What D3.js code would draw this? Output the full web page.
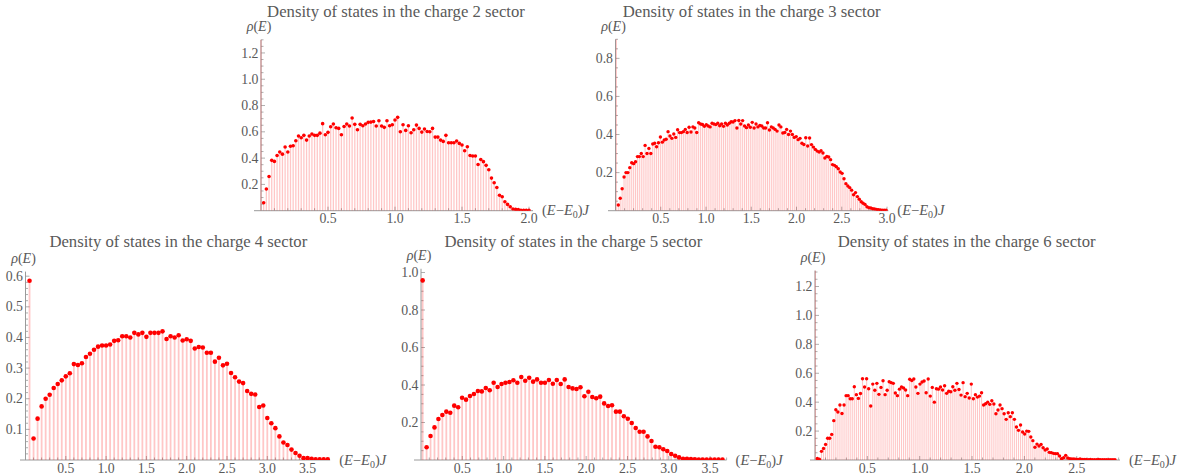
<!DOCTYPE html>
<html><head><meta charset="utf-8">
<script src="https://cdn.jsdelivr.net/npm/d3@7"></script>
<style>
body{margin:0;background:#fff;}
svg{display:block;}
</style>
</head><body>
<svg id="chart" width="1190" height="476" font-family="'Liberation Serif', 'Tinos', 'DejaVu Serif', serif"></svg>
<script>
// ---------- DATA ----------
const charges = [2, 3, 4, 5, 6];

// charge 2 sector: first bin (at E=0) runs off the top of the plot
const xRange2 = [0, 2.0];
const rho2 = [1.4,
 0.06,0.165,0.26,0.383,0.375,0.42,0.446,0.43,0.484,0.446,
 0.49,0.494,0.532,0.568,0.555,0.573,0.537,0.568,0.583,0.573,
 0.573,0.59,0.662,0.578,0.596,0.639,0.659,0.631,0.626,0.578,
 0.641,0.659,0.644,0.705,0.657,0.616,0.657,0.646,0.659,0.672,
 0.674,0.679,0.644,0.684,0.644,0.634,0.684,0.646,0.654,0.69,
 0.71,0.60,0.654,0.611,0.646,0.593,0.616,0.651,0.626,0.598,
 0.621,0.603,0.60,0.626,0.56,0.56,0.537,0.527,0.573,0.517,
 0.517,0.517,0.53,0.512,0.5,0.456,0.487,0.42,0.416,0.416,
 0.352,0.39,0.373,0.345,0.312,0.248,0.213,0.177,0.117,0.106,
 0.068,0.048,0.03,0.013,0.01,0.008,0.003,0.003,0.003,0.003];

// charge 3 sector
const xRange3 = [0.01, 2.99];
const rho3 = [1.1,
 0.03,0.065,0.115,0.177,0.2,0.2,0.226,0.252,0.247,0.257,
 0.284,0.284,0.3,0.284,0.343,0.3,0.327,0.3,0.35,0.354,
 0.336,0.357,0.387,0.36,0.371,0.375,0.415,0.392,0.38,0.403,
 0.385,0.425,0.41,0.41,0.415,0.427,0.411,0.438,0.413,0.44,
 0.434,0.411,0.462,0.455,0.453,0.443,0.452,0.445,0.44,0.459,
 0.455,0.452,0.459,0.446,0.455,0.443,0.459,0.45,0.459,0.467,
 0.466,0.473,0.434,0.474,0.455,0.473,0.445,0.436,0.45,0.438,
 0.464,0.434,0.455,0.44,0.448,0.445,0.434,0.434,0.462,0.424,
 0.44,0.434,0.427,0.418,0.45,0.44,0.408,0.411,0.427,0.4,
 0.418,0.4,0.385,0.389,0.373,0.38,0.354,0.348,0.383,0.34,
 0.382,0.347,0.334,0.322,0.313,0.308,0.315,0.303,0.277,0.285,
 0.282,0.268,0.242,0.238,0.231,0.22,0.203,0.196,0.168,0.142,
 0.13,0.121,0.108,0.084,0.095,0.074,0.06,0.047,0.039,0.033,
 0.021,0.016,0.014,0.01,0.009,0.007,0.005,0.004,0.003,0.002,
 0.002];

// charge 4 sector
const xRange4 = [0.05, 3.75];
const rho4 = [
 0.585,0.07,0.135,0.175,0.2,0.213,0.235,0.248,0.26,0.273,
 0.283,0.313,0.31,0.316,0.336,0.347,0.36,0.37,0.374,0.374,
 0.377,0.389,0.391,0.404,0.404,0.4,0.415,0.41,0.415,0.402,
 0.415,0.415,0.415,0.42,0.395,0.404,0.4,0.407,0.39,0.394,
 0.389,0.364,0.369,0.367,0.35,0.35,0.321,0.334,0.309,0.314,
 0.284,0.27,0.256,0.251,0.225,0.216,0.214,0.173,0.178,0.137,
 0.12,0.104,0.077,0.057,0.049,0.034,0.023,0.014,0.006,0.006,
 0.004,0.002,0.002,0.002,0.002];

// charge 5 sector
const xRange5 = [0.02, 3.65];
const rho5 = [
 0.958,0.068,0.128,0.174,0.219,0.24,0.258,0.252,0.29,0.281,
 0.332,0.322,0.341,0.352,0.368,0.366,0.384,0.372,0.412,0.389,
 0.405,0.412,0.416,0.425,0.412,0.443,0.423,0.439,0.418,0.43,
 0.412,0.412,0.427,0.407,0.427,0.405,0.43,0.389,0.382,0.379,
 0.388,0.34,0.364,0.336,0.329,0.338,0.302,0.288,0.292,0.258,
 0.258,0.233,0.22,0.197,0.171,0.151,0.151,0.126,0.101,0.071,
 0.068,0.057,0.048,0.032,0.023,0.014,0.007,0.007,0.005,0.004,
 0.003,0.003,0.002,0.002,0.002,0.002,0.002];

// charge 6 sector: first bin runs off the top of the plot
const xRange6 = [0.003, 2.865];
const rho6 = [1.5,
 0.01,0.005,0.06,0.08,0.108,0.15,0.15,0.177,0.272,0.348,
 0.332,0.38,0.322,0.38,0.445,0.445,0.424,0.424,0.507,0.452,
 0.426,0.46,0.562,0.505,0.562,0.493,0.373,0.525,0.482,0.53,
 0.454,0.502,0.548,0.452,0.482,0.541,0.535,0.53,0.463,0.445,
 0.49,0.505,0.498,0.484,0.445,0.558,0.55,0.56,0.505,0.461,
 0.525,0.539,0.546,0.465,0.56,0.442,0.502,0.4,0.493,0.49,
 0.505,0.484,0.514,0.461,0.475,0.472,0.507,0.482,0.53,0.488,
 0.449,0.535,0.438,0.461,0.429,0.525,0.424,0.452,0.435,0.442,
 0.465,0.38,0.389,0.4,0.385,0.41,0.387,0.32,0.346,0.38,
 0.355,0.32,0.281,0.327,0.3,0.327,0.281,0.228,0.205,0.242,
 0.194,0.18,0.2,0.198,0.159,0.134,0.088,0.11,0.097,0.108,
 0.085,0.069,0.076,0.053,0.051,0.046,0.044,0.044,0.028,0.009,
 0.016,0.032,0.014,0.009,0.007,0.007,0.005,0.004,0.007,0.004,
 0.003,0.003,0.002,0.003,0.002,0.002,0.002,0.003,0.002,0.002,
 0.002,0.002,0.002,0.002,0.002,0.002];

// tick labels
const xTicks2 = [0.5, 1.0, 1.5, 2.0];
const yTicks2 = [0.2, 0.4, 0.6, 0.8, 1.0, 1.2];
const xTicks3 = [0.5, 1.0, 1.5, 2.0, 2.5, 3.0];
const yTicks3 = [0.2, 0.4, 0.6, 0.8];
const xTicks4 = [0.5, 1.0, 1.5, 2.0, 2.5, 3.0, 3.5];
const yTicks4 = [0.1, 0.2, 0.3, 0.4, 0.5, 0.6];
const xTicks5 = [0.5, 1.0, 1.5, 2.0, 2.5, 3.0, 3.5];
const yTicks5 = [0.2, 0.4, 0.6, 0.8, 1.0];
const xTicks6 = [0.5, 1.0, 1.5, 2.0, 2.5];
const yTicks6 = [0.2, 0.4, 0.6, 0.8, 1.0, 1.2];

// ---------- LAYOUT ----------
const svg = d3.select("#chart");
const panels = [
  {q:charges[0], vals:rho2, xr:xRange2, xt:xTicks2, yt:yTicks2, x0:261,   k:134,  xMax:2.03,  xStart:254, y0:210.7, top:39.8,  yMax:1.30,  yMinor:0.05, r:1.8, sw:1.3, title:[396,17]},
  {q:charges[1], vals:rho3, xr:xRange3, xt:xTicks3, yt:yTicks3, x0:615.5, k:90.5, xMax:3.015, xStart:608, y0:210.7, top:39.3,  yMax:0.90,  yMinor:0.05, r:1.7, sw:1.1, title:[751.7,17]},
  {q:charges[2], vals:rho4, xr:xRange4, xt:xTicks4, yt:yTicks4, x0:25.5,  k:80.6, xMax:3.78,  xStart:20,  y0:460,   top:271.6, yMax:0.615, yMinor:0.02, r:2.3, sw:1.8, title:[178.3,246.5]},
  {q:charges[3], vals:rho5, xr:xRange5, xt:xTicks5, yt:yTicks5, x0:421,   k:82.6, xMax:3.70,  xStart:414, y0:460,   top:268.75,yMax:1.02,  yMinor:0.05, r:2.3, sw:1.8, title:[573.3,246.5]},
  {q:charges[4], vals:rho6, xr:xRange6, xt:xTicks6, yt:yTicks6, x0:815,   k:104.7,xMax:2.913, xStart:810, y0:460,   top:270.6, yMax:1.31,  yMinor:0.05, r:1.7, sw:1.1, title:[966.7,246.5]}
];

const axisCol = "#9a9a9a", textCol = "#595959";
const fmt = d3.format(".1f");

panels.forEach((p, pi) => {
  const x = d3.scaleLinear().domain([0, p.xMax]).range([p.x0, p.x0 + p.k * p.xMax]);
  const y = d3.scaleLinear().domain([0, p.yMax]).range([p.y0, p.top]);
  const n = p.vals.length;
  const step = (p.xr[1] - p.xr[0]) / (n - 1);
  const data = p.vals.map((v, i) => ({x: p.xr[0] + i * step, y: v}));
  const g = svg.append("g");

  const clipId = "clip" + pi;
  svg.append("clipPath").attr("id", clipId).append("rect")
    .attr("x", p.xStart).attr("y", p.top)
    .attr("width", x(p.xMax) - p.xStart + 4).attr("height", p.y0 - p.top);

  // axes lines
  g.append("line").attr("x1", p.xStart).attr("x2", x(p.xMax)).attr("y1", p.y0).attr("y2", p.y0)
    .attr("stroke", axisCol).attr("stroke-width", 1);
  g.append("line").attr("x1", p.x0).attr("x2", p.x0).attr("y1", p.y0).attr("y2", p.top)
    .attr("stroke", axisCol).attr("stroke-width", 1);

  // x ticks (minor every 0.1, major at labels)
  const xMinor = d3.range(1, Math.floor(p.xMax * 10 + 1e-6) + 1).map(i => i / 10);
  g.selectAll(null).data(xMinor).join("line")
    .attr("x1", d => x(d)).attr("x2", d => x(d))
    .attr("y1", p.y0).attr("y2", d => p.y0 - (Math.abs(d * 2 - Math.round(d * 2)) < 1e-6 ? 4 : 2.5))
    .attr("stroke", axisCol).attr("stroke-width", 0.8);
  g.selectAll(null).data(p.xt).join("text")
    .attr("x", d => x(d)).attr("y", p.y0 + 12.5)
    .attr("text-anchor", "middle").attr("font-size", 13.8).attr("fill", textCol)
    .text(d => fmt(d));

  // y ticks
  const ym = d3.range(1, Math.floor(p.yMax / p.yMinor + 1e-6) + 1).map(i => +(i * p.yMinor).toFixed(4));
  const isMajor = d => p.yt.some(t => Math.abs(t - d) < 1e-6);
  g.selectAll(null).data(ym).join("line")
    .attr("x1", p.x0).attr("x2", d => p.x0 + (isMajor(d) ? 4 : 2.5))
    .attr("y1", d => y(d)).attr("y2", d => y(d))
    .attr("stroke", axisCol).attr("stroke-width", 0.8);
  g.selectAll(null).data(p.yt).join("text")
    .attr("x", p.x0 - 2.5).attr("y", d => y(d)).attr("dy", "0.33em")
    .attr("text-anchor", "end").attr("font-size", 13.8).attr("fill", textCol)
    .text(d => fmt(d));

  // stems
  const plot = g.append("g").attr("clip-path", `url(#${clipId})`);
  plot.selectAll(null).data(data).join("line")
    .attr("x1", d => x(d.x)).attr("x2", d => x(d.x))
    .attr("y1", y(0)).attr("y2", d => y(d.y))
    .attr("stroke", "#ff0000").attr("stroke-opacity", 0.22).attr("stroke-width", p.sw);
  // points
  plot.selectAll(null).data(data).join("circle")
    .attr("cx", d => x(d.x)).attr("cy", d => y(d.y)).attr("r", p.r)
    .attr("fill", "#ff0000");

  // title
  g.append("text").attr("x", p.title[0]).attr("y", p.title[1])
    .attr("text-anchor", "middle").attr("font-size", 16.7).attr("fill", textCol)
    .text(`Density of states in the charge ${p.q} sector`);

  // y label rho(E)
  const yl = g.append("text").attr("x", p.x0 - 2).attr("y", p.top - 8.5)
    .attr("text-anchor", "middle").attr("font-size", 14).attr("fill", textCol);
  yl.append("tspan").attr("font-style", "italic").text("ρ");
  yl.append("tspan").text("(");
  yl.append("tspan").attr("font-style", "italic").text("E");
  yl.append("tspan").text(")");

  // x label (E-E0)J
  const xl = g.append("text").attr("x", x(p.xMax) + 9).attr("y", p.y0 + 4.5)
    .attr("font-size", 14.5).attr("fill", textCol);
  xl.append("tspan").text("(");
  xl.append("tspan").attr("font-style", "italic").text("E");
  xl.append("tspan").text("\u2212");
  xl.append("tspan").attr("font-style", "italic").text("E");
  xl.append("tspan").attr("font-size", 10).attr("dy", 3).text("0");
  xl.append("tspan").attr("dy", -3).text(")");
  xl.append("tspan").attr("font-style", "italic").text("J");
});
</script>
</body></html>
